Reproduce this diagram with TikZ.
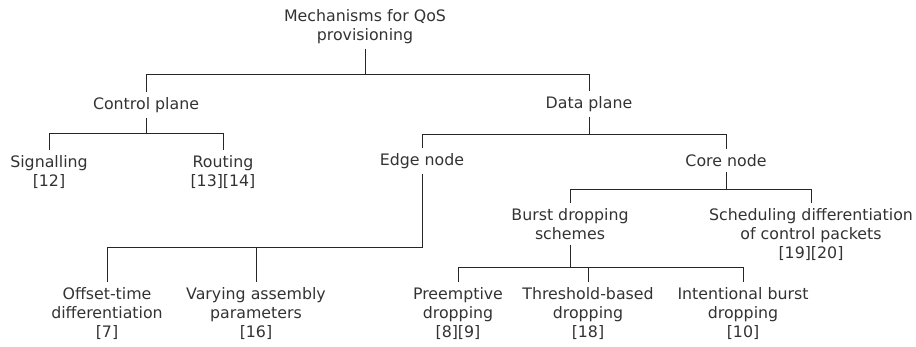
\documentclass[tikz,border=0pt]{standalone}
\usepackage{fontspec}
\setmainfont{DejaVu Sans}
\usepackage{tikz}
\definecolor{txt}{HTML}{333333}
\definecolor{ln}{HTML}{262626}
\tikzset{
  lbl/.style={anchor=north,align=center,inner xsep=0pt,inner ysep=5pt,text=txt,
    font=\fontsize{15.8}{19}\selectfont},
  link/.style={draw=ln,line width=0.9pt}
}

\begin{document}
\begin{tikzpicture}[x=1pt,y=-1pt]
\useasboundingbox (0,0) rectangle (916,347);

%levels of the horizontal bars
\coordinate (qosbar) at (0,74);
\coordinate (ctrlbar) at (0,133);
\coordinate (databar) at (0,134);
\coordinate (corebar) at (0,189);
\coordinate (edgebar) at (0,247);
\coordinate (dropbar) at (0,267);

\node[lbl] (qos) at (365,4) {Mechanisms for QoS\\provisioning};

%Control plane
\node[lbl] (ctrl) at (146,92) {Control plane};
\node[lbl] (sig) at (49,150) {Signalling\\{[12]}};
\node[lbl] (rout) at (223,150) {Routing\\{[13][14]}};

%Data plane
\node[lbl] (data) at (589,91) {Data plane};
\node[lbl] (edge) at (422,148) {Edge node};
\node[lbl] (core) at (726,149) {Core node};

%Edge node
\node[lbl] (offset) at (107,282) {Offset-time\\differentiation\\{[7]}};
\node[lbl] (vary) at (256,282) {Varying assembly\\parameters\\{[16]}};

%Core node
\node[lbl] (burst) at (570,203) {Burst dropping\\schemes};
\node[lbl] (sched) at (811,203) {Scheduling differentiation\\of control packets\\{[19][20]}};
\node[lbl] (pre) at (458,282) {Preemptive\\dropping\\{[8][9]}};
\node[lbl] (thr) at (588,282) {Threshold-based\\dropping\\{[18]}};
\node[lbl] (intent) at (743,282) {Intentional burst\\dropping\\{[10]}};

%connectors
\draw[link] (qos.south) -- (qos.south |- qosbar);
\draw[link] (ctrl.north) |- (data.north |- qosbar) -- (data.north);

\draw[link] (ctrl.south) -- (ctrl.south |- ctrlbar);
\draw[link] (sig.north) |- (rout.north |- ctrlbar) -- (rout.north);

\draw[link] (data.south) -- (data.south |- databar);
\draw[link] (edge.north) |- (core.north |- databar) -- (core.north);

\draw[link] (edge.south) |- (offset.north |- edgebar) -- (offset.north);
\draw[link] (vary.north) -- (vary.north |- edgebar);

\draw[link] (core.south) -- (core.south |- corebar);
\draw[link] (burst.north) |- (sched.north |- corebar) -- (sched.north);

\draw[link] (burst.south) -- (burst.south |- dropbar);
\draw[link] (pre.north) |- (intent.north |- dropbar) -- (intent.north);
\draw[link] (thr.north) -- (thr.north |- dropbar);

\end{tikzpicture}
\end{document}
